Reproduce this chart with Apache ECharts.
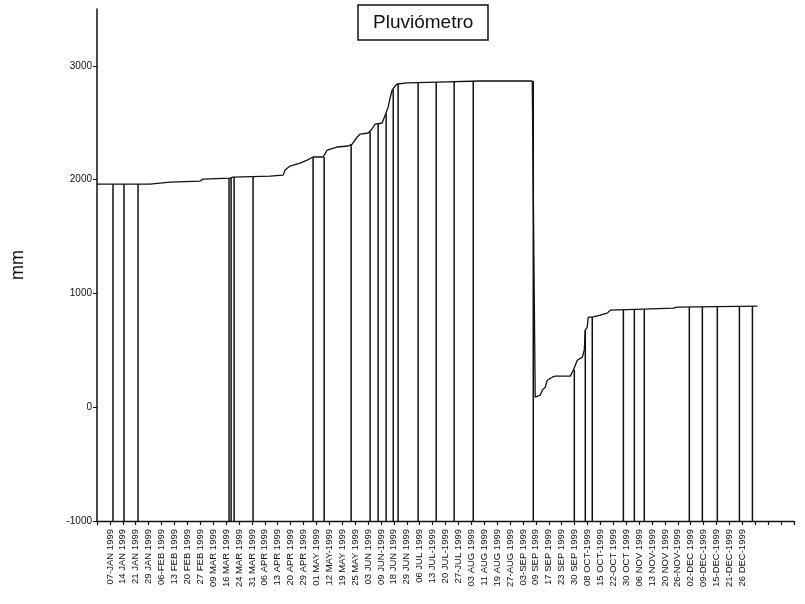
<!DOCTYPE html>
<html>
<head>
<meta charset="utf-8">
<script src="https://cdn.jsdelivr.net/npm/echarts/dist/echarts.min.js"></script>
<style>
  html, body { margin: 0; padding: 0; background: #fff; }
  #main { width: 805px; height: 604px; }
</style>
</head>
<body>
<div id="main"></div>
<script>
// 横轴标签（每周）
const weekLabels = [
  '07-JAN 1999', '14 JAN 1999', '21 JAN 1999', '29 JAN 1999', '06-FEB 1999',
  '13 FEB 1999', '20 FEB 1999', '27 FEB 1999', '09 MAR 1999', '16 MAR 1999',
  '24 MAR 1999', '31 MAR 1999', '06 APR 1999', '13 APR 1999', '20 APR 1999',
  '29 APR 1999', '01 MAY 1999', '12 MAY-1999', '19 MAY 1999', '25 MAY 1999',
  '03 JUN 1999', '09 JUN-1999', '18 JUN 1999', '29 JUN 1999', '06 JUL 1999',
  '13 JUL-1999', '20 JUL-1999', '27-JUL 1999', '03 AUG 1999', '11 AUG 1999',
  '19 AUG 1999', '27-AUG 1999', '03-SEP 1999', '09 SEP 1999', '17 SEP 1999',
  '23 SEP 1999', '30 SEP 1999', '08 OCT-1999', '15 OCT-1999', '22-OCT 1999',
  '30 OCT 1999', '06 NOV 1999', '13 NOV-1999', '20 NOV 1999', '26-NOV-1999',
  '02-DEC 1999', '09-DEC-1999', '15-DEC-1999', '21-DEC-1999', '26 DEC-1999'
];

// 累计雨量曲线（位置以周为单位）
const curveX = [
  0, 4.11, 4.88, 5.66, 7.98, 8.22, 10.31, 10.54, 13.41, 14.42,
  14.57, 14.96, 15.74, 16.28, 16.74, 17.52, 17.83, 18.60, 19.46, 19.77,
  20.16, 20.39, 21.01, 21.24, 21.55, 22.09, 22.33, 22.56, 22.71, 22.87,
  23.10, 23.26, 24.03, 26.36, 29.69, 33.72,
  33.95, 34.34, 34.50, 34.73, 34.88, 35.27, 35.50, 36.67, 36.90, 37.21,
  37.60, 37.75, 37.83, 37.98, 38.06, 38.37, 38.99, 39.53, 39.77, 42.33,
  44.65, 44.96, 51.16
];
const curveMm = [
  1961, 1961, 1970, 1979, 1988, 2005, 2014, 2023, 2032, 2040,
  2084, 2120, 2146, 2172, 2199, 2199, 2260, 2287, 2296, 2313,
  2375, 2401, 2410, 2436, 2489, 2498, 2568, 2639, 2718, 2788,
  2823, 2841, 2850, 2858, 2867, 2867,
  88, 106, 150, 176, 237, 264, 273, 273, 325, 413,
  440, 501, 677, 704, 792, 792, 809, 827, 853, 862,
  871, 880, 888
];

// 竖线（读数日期）
const dropX = [
  1.24, 2.09, 3.18, 10.23, 10.39, 10.62, 12.09, 16.74, 17.60, 19.69,
  21.16, 21.78, 22.40, 22.95, 23.33, 24.88, 26.28, 27.67, 29.15, 33.80,
  36.98, 37.83, 38.37, 40.78, 41.63, 42.40, 45.89, 46.90, 48.06, 49.77,
  50.78
];
const dropMm = [
  1961, 1961, 1961, 2014, 2014, 2023, 2023, 2199, 2199, 2313,
  2420, 2489, 2580, 2790, 2841, 2850, 2858, 2860, 2865, 2867,
  330, 677, 792, 855, 860, 862, 880, 882, 884, 886,
  888
];

const yMin = -1000;
const ink = '#111';
const font = '"Liberation Sans", Arial, sans-serif';

let chart; // 图表实例

function setChartOption() {
  return {
    animation: false,
    backgroundColor: '#fff',
    title: {
      text: 'Pluviómetro',
      left: 358,
      top: 5,
      padding: [8, 15],
      borderColor: ink,
      borderWidth: 1.5,
      textStyle: {
        color: ink,
        fontFamily: font,
        fontSize: 19,
        fontWeight: 'normal'
      }
    },
    grid: { // 图表大小
      left: 97,
      right: 11,
      top: 9,
      bottom: 83,
      containLabel: false
    },
    xAxis: {
      type: 'value',
      min: 0,
      max: 54,
      interval: 1,
      axisLine: { show: true, onZero: false, lineStyle: { color: ink, width: 1.3 } },
      axisTick: { show: true, length: 4, lineStyle: { color: ink, width: 1.2 } },
      splitLine: { show: false },
      axisLabel: {
        rotate: 90,
        margin: 8,
        color: ink,
        fontFamily: font,
        fontSize: 9.5,
        formatter: (val) => weekLabels[val - 1] || ''
      }
    },
    yAxis: {
      type: 'value',
      min: yMin,
      max: 3500,
      interval: 1000,
      name: 'mm',
      nameLocation: 'middle',
      nameGap: 70,
      nameTextStyle: { color: ink, fontFamily: font, fontSize: 18 },
      axisLine: { show: true, lineStyle: { color: ink, width: 1.5 } },
      axisTick: { show: true, length: 4, lineStyle: { color: ink } },
      splitLine: { show: false },
      axisLabel: {
        showMaxLabel: false,
        margin: 5,
        color: ink,
        fontFamily: font,
        fontSize: 10,
        formatter: (val) => String(val) // 不要千位分隔符
      }
    },
    series: [{
        name: 'curve',
        type: 'line',
        data: curveX.map((x, i) => [x, curveMm[i]]),
        showSymbol: false,
        lineStyle: { color: ink, width: 1.3 },
        z: 3
      },
      {
        name: 'drops',
        type: 'custom',
        data: dropX.map((x, i) => [x, dropMm[i]]),
        renderItem: (params, api) => {
          const top = api.coord([api.value(0), api.value(1)]);
          const bottom = api.coord([api.value(0), yMin]);
          return {
            type: 'line',
            shape: { x1: top[0], y1: top[1], x2: bottom[0], y2: bottom[1] },
            style: { stroke: ink, lineWidth: 1.5 }
          };
        },
        z: 2
      }
    ]
  };
}

chart = echarts.init(document.getElementById('main'), null, { renderer: 'canvas' });
chart.setOption(setChartOption());
</script>
</body>
</html>
